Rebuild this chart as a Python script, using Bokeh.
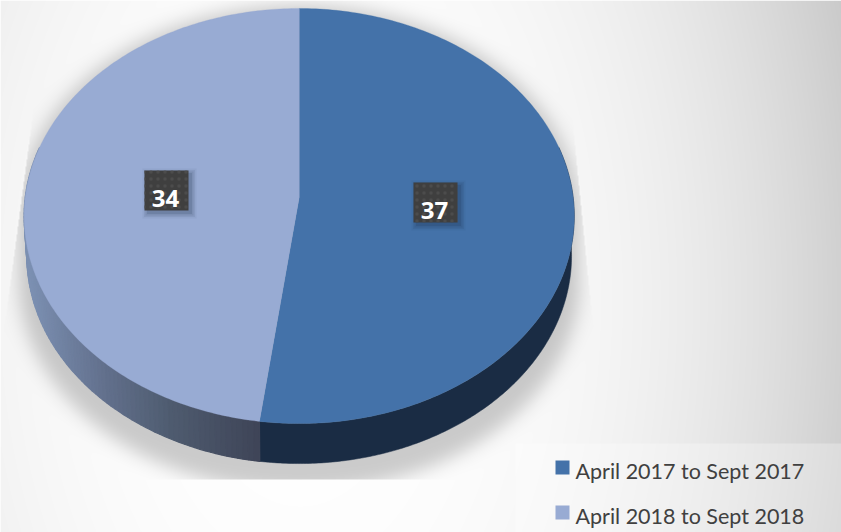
import numpy as np
from bokeh.plotting import figure
from bokeh.models import Range1d
from bokeh.core.properties import value
from bokeh.embed import file_html
from bokeh.resources import INLINE

categories = ["April 2017 to Sept 2017", "April 2018 to Sept 2018"]
values = [37, 34]
colors = ["#4472A9", "#98ABD3"]

# geometry of the tilted pie, in screen pixels
CX, CY, RX, SY, K, DEPTH, SIDE_SCALE = 298.7, 197.0, 274.0, 205.9, 0.0892, 40.0, 0.99
X0, X1, Y0, Y1 = 0, 841, 0, 532
W, H = X1 - X0, Y1 - Y0

def project(t):
    u, v = np.sin(t), np.cos(t)
    w = 1 + K * v
    return CX + RX * u / w, CY - SY * v / w

def lower(t):
    x, y = project(t)
    return CX + (x - CX) * SIDE_SCALE, y + DEPTH

p = figure(width=W, height=H, output_backend="svg", toolbar_location=None,
           x_range=Range1d(X0, X1), y_range=Range1d(Y1, Y0),
           min_border=0, outline_line_color=None, background_fill_color="white",
           border_fill_color="white")
p.xaxis.visible = False
p.yaxis.visible = False
p.grid.visible = False

# ---- background gradient and soft shadow, rasterised
xx, yy = np.meshgrid(np.arange(X0, X1) + 0.5, np.arange(Y0, Y1) + 0.5)
d2 = ((xx - 300) / 541) ** 2 + ((yy - 300) / 900) ** 2
g = 1 - 0.18 * d2 ** 1.3
legend_band = (yy >= 443.5) & (xx > 515)
g = np.where(legend_band, 1 - (1 - g) * 0.72, g)

def inside(x, y, scale=1.0):
    xp, yp = (x - CX) / scale, (y - CY) / scale
    v = -yp / (SY + K * yp)
    w = 1 + K * v
    u = xp * w / RX
    return (u ** 2 + v ** 2) <= 1

mask = np.zeros_like(xx)
for dy in np.arange(0, 66, 3):
    mask = np.maximum(mask, inside(xx, yy - dy, 1.02).astype(float))
sigma = 9.0
n_y, n_x = mask.shape
fy = np.fft.fftfreq(n_y)[:, None]
fx = np.fft.fftfreq(n_x)[None, :]
blur = np.fft.ifft2(np.fft.fft2(mask) * np.exp(-2 * (np.pi * sigma) ** 2 * (fx ** 2 + fy ** 2))).real
blur = np.clip(blur, 0, 1)
left_edge = 25 - (yy - 170) * 20 / 150
right_edge = 575 + (yy - 150) * 17 / 170
clip = (yy < 479.5) & (xx > left_edge) & (xx < right_edge)
shade = 1 - 0.2 * blur * clip
grey = np.clip(g * shade, 0, 1)
img = np.zeros((H, W), dtype=np.uint32)
view = img.view(dtype=np.uint8).reshape((H, W, 4))
view[..., 0] = view[..., 1] = view[..., 2] = (grey * 255).astype(np.uint8)
view[..., 3] = 255
p.image_rgba(image=[img], x=X0, y=Y0, dw=W, dh=H)

# ---- pie
fractions = np.array(values, dtype=float) / sum(values)
edges = np.concatenate([[0], np.cumsum(fractions)]) * 2 * np.pi

def side_color(x):
    xs = [30, 100, 170, 259]
    r = np.interp(x, xs, [124, 100, 79, 63])
    gg = np.interp(x, xs, [144, 114, 92, 69])
    b = np.interp(x, xs, [178, 143, 112, 88])
    return "#%02x%02x%02x" % (int(r), int(gg), int(b))

# side wall of the first slice: one flat dark band
ta = np.linspace(np.pi * 0.42, edges[1], 200)
xa, ya = project(ta)
xb, yb = lower(ta)
p.patch(np.concatenate([xa, xb[::-1]]), np.concatenate([ya, yb[::-1]]),
        fill_color="#1A2C44", line_color="#1A2C44", line_width=0.5)

# side wall of the second slice: shaded from light to dark along its arc
strip_x, strip_y, strip_c = [], [], []
ts = np.linspace(edges[1], np.pi * 1.58, 90)
for a, b in zip(ts[:-1], ts[1:]):
    xa, ya = project(np.array([a, b]))
    xb, yb = lower(np.array([a, b]))
    strip_x.append([xa[0], xa[1], xb[1], xb[0]])
    strip_y.append([ya[0], ya[1], yb[1], yb[0]])
    strip_c.append(side_color((xa[0] + xa[1]) / 2))
p.patches(strip_x[::-1], strip_y[::-1], fill_color=strip_c[::-1], line_color=strip_c[::-1], line_width=1.2)

for i in range(len(values)):
    t = np.linspace(edges[i], edges[i + 1], 200)
    x, y = project(t)
    p.patch(np.concatenate([[CX], x]), np.concatenate([[CY], y]),
            fill_color=colors[i], line_color=colors[i], line_width=0.3)

# ---- value labels
label_x = [435, 166]
label_y = [202, 190]
BW, BH = 44, 40
for i in range(len(values)):
    for grow, alpha in zip([5, 3.5, 2, 0.5], [0.05, 0.07, 0.09, 0.12]):
        p.quad(left=label_x[i] - BW / 2 + 3 - grow, right=label_x[i] + BW / 2 + 3 + grow,
               top=label_y[i] - BH / 2 + 3 - grow, bottom=label_y[i] + BH / 2 + 3 + grow,
               fill_color="#14233a", fill_alpha=alpha, line_color=None)
p.quad(left=[x - BW / 2 for x in label_x], right=[x + BW / 2 for x in label_x],
       top=[y - BH / 2 for y in label_y], bottom=[y + BH / 2 for y in label_y],
       fill_color="#3F3F3F", line_color=None,
       hatch_pattern="dot", hatch_color="#4C4C4C", hatch_scale=7, hatch_weight=1.2)
p.text(x=[x - 1 for x in label_x], y=[y + 8 for y in label_y], text=[str(v) for v in values],
       text_font=value("Open Sans"), text_font_style="bold", text_font_size="24px",
       text_color="white", text_align="center", text_baseline="middle")

# ---- legend
legend_top = [460, 505]
legend_mid = [470, 515]
p.quad(left=[555, 555], right=[569, 569], top=legend_top, bottom=[y + 14 for y in legend_top],
       fill_color=colors, line_color=None)
p.text(x=[575, 575], y=legend_mid, text=categories, text_font=value("Lato"),
       text_font_size="21.5px", text_color="#404040", text_align="left",
       text_baseline="middle")

open("out.html", "w").write(file_html(p, INLINE))
